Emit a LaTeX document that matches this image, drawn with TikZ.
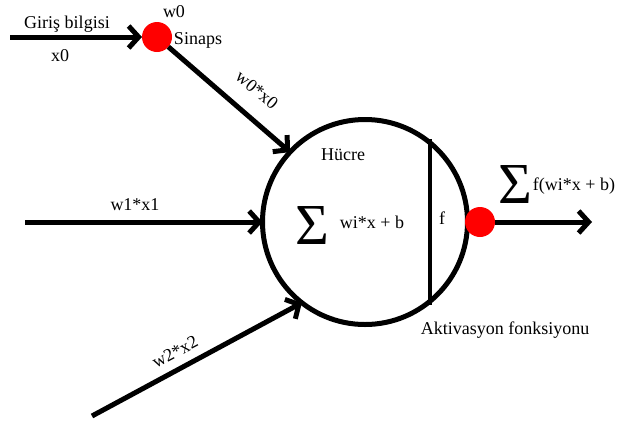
\documentclass[tikz,border=0pt]{standalone}
\usepackage{fontspec}
\setmainfont{Liberation Serif}
\usepackage{tikz}
\usetikzlibrary{arrows.meta,positioning,calc}

\begin{document}
\begin{tikzpicture}[
  x=1pt, y=-1pt,
  font=\fontsize{18}{20}\selectfont,
  cell/.style={circle, draw=black, line width=5pt, minimum size=205pt, inner sep=0pt, outer sep=0pt},
  synapse/.style={circle, fill=red, minimum size=30pt, inner sep=0pt, outer sep=0pt},
  label/.style={inner sep=1pt},
  bigsum/.style={inner sep=0pt, font=\fontsize{58}{58}\selectfont},
  arrow/.style={-{Straight Barb[length=10pt, width=22pt]}, line width=5pt, black}
]
\useasboundingbox (0,0) rectangle (618,421);

% Cell
\node[cell] (hucre) at (365,222) {};
\coordinate (ftop) at ($(hucre.center)+(65,-83)$);
\coordinate (fbot) at ($(hucre.center)+(65,83)$);
\draw[line width=4pt] (ftop) -- (fbot);

% Synapses
\node[synapse] (sinaps) at (157,37) {};
\node[synapse] (cikis) at (480,222) {};

% Free ends
\coordinate (in0) at (10,37);
\coordinate (in1) at (25,222);
\coordinate (in2) at (92,416);
\coordinate (out) at (592,222);

% Labels
\node[label] (giris) at (67,24) {Giriş bilgisi};
\node[label] (x0) at (60,56) {x0};
\node[label] (w0) at (174,12) {w0};
\node[label] (sinlbl) at (198,40) {Sinaps};
\node[label, rotate=-40] (w0x0) at (257,90) {w0*x0};
\node[label] (w1x1) at (135,205) {w1*x1};
\node[label, rotate=28] (w2x2) at (175,352) {w2*x2};
\node[label] (hlbl) at (343,155) {Hücre};
\node[bigsum] (sum1) at (312,226) {Σ};
\node[label] (net) at (372,222) {wi*x + b};
\node[label] (flbl) at (442,218) {f};
\node[bigsum] (sum2) at (515,185) {Σ};
\node[label] (fout) at (574,186) {f(wi*x + b)};
\node[label] (akt) at (505,330) {Aktivasyon fonksiyonu};

% Connections
\draw[arrow] (in0) -- (sinaps.west);
\draw[arrow] (sinaps) -- (hucre.137);
\draw[arrow] (in1) -- (hucre.west);
\draw[arrow] (in2) -- (hucre.232);
\draw[arrow] (cikis.east) -- (out);

\end{tikzpicture}
\end{document}
